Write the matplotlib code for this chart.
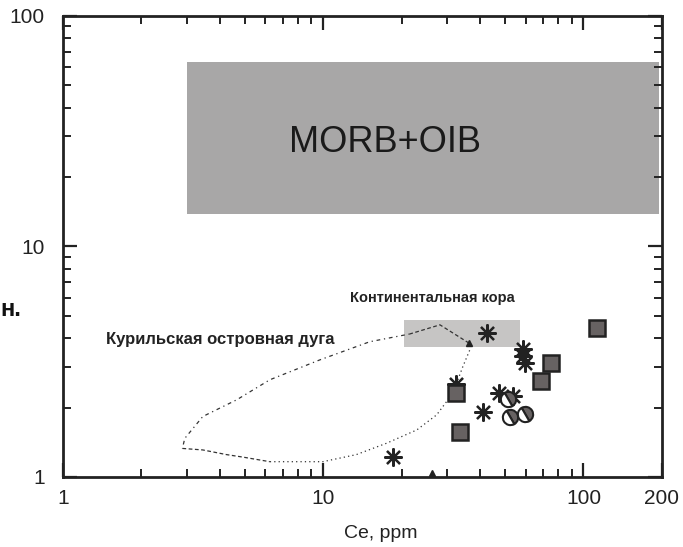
import numpy as np
import matplotlib.pyplot as plt
from matplotlib.patches import Rectangle
from matplotlib.markers import MarkerStyle
from matplotlib.transforms import Affine2D
from matplotlib.ticker import FixedLocator, NullFormatter

plt.rcParams["font.family"] = ["Liberation Sans", "DejaVu Sans"]

# sample groups: Ce (ppm) vs Ce/Pb
star_ce = [42.6, 58.7, 58.5, 59.7, 32.5, 47.3, 53.4, 41.0, 18.6]
star_ratio = [4.22, 3.58, 3.35, 3.11, 2.53, 2.31, 2.25, 1.92, 1.22]

sq_ce = [113, 75, 68.4, 32.3, 33.7]
sq_ratio = [4.42, 3.13, 2.62, 2.32, 1.56]

circ_ce = [51.2, 52.1, 59.6]
circ_ratio = [2.17, 1.82, 1.88]

tri_ce = [26.2]
tri_ratio = [1.04]

# reference fields
morb_ce = (3, 195)
morb_ratio = (13.8, 63)
crust_ce = (20.5, 57)
crust_ratio = (3.65, 4.8)

# Kuril arc outline, split into dashed and dotted pieces
arc_dashed_top_ce = [36.3, 28.1, 21.5]
arc_dashed_top_ratio = [3.81, 4.57, 4.17]
arc_dotted_upper_ce = [21.5, 15.1, 9.71, 6.24, 4.65, 3.45, 2.94, 2.88]
arc_dotted_upper_ratio = [4.17, 3.86, 3.22, 2.64, 2.16, 1.83, 1.47, 1.33]
arc_dashed_low_ce = [2.88, 3.45, 4.26, 4.91, 6.24]
arc_dashed_low_ratio = [1.33, 1.31, 1.25, 1.22, 1.165]
arc_dotted_low_ce = [6.24, 9.97, 13.4, 17.5, 22.9, 27.3, 31.5, 34.4, 36.6]
arc_dotted_low_ratio = [1.165, 1.165, 1.25, 1.40, 1.60, 1.86, 2.31, 3.01, 3.56]

fig = plt.figure(figsize=(6.83, 5.47), dpi=100)
ax = fig.add_axes([0.092, 0.128, 0.877, 0.843])
ax.set_xscale("log")
ax.set_yscale("log")
ax.set_xlim(1, 200)
ax.set_ylim(1, 100)

ax.add_patch(Rectangle((morb_ce[0], morb_ratio[0]), morb_ce[1] - morb_ce[0],
                       morb_ratio[1] - morb_ratio[0], facecolor="#a8a7a7",
                       edgecolor="none", zorder=1))
ax.add_patch(Rectangle((crust_ce[0], crust_ratio[0]), crust_ce[1] - crust_ce[0],
                       crust_ratio[1] - crust_ratio[0], facecolor="#c6c5c4",
                       edgecolor="none", zorder=1))

ax.text(17.3, 28.3, "MORB+OIB", fontsize=26, color="#1a1a1a",
        ha="center", va="center", zorder=2)
ax.text(26.2, 5.98, "Континентальная кора", fontsize=10.5, fontweight="bold",
        color="#222222", ha="center", va="center", zorder=2)
ax.text(4.01, 3.93, "Курильская островная дуга", fontsize=12, fontweight="bold",
        color="#222222", ha="center", va="center", zorder=2)

lc = "#333333"
ax.plot(arc_dashed_top_ce, arc_dashed_top_ratio, color=lc, lw=0.9,
        ls=(0, (3, 2)), zorder=3)
ax.plot(arc_dotted_upper_ce, arc_dotted_upper_ratio, color=lc, lw=0.9,
        ls=(0, (1, 3, 3, 3)), zorder=3)
ax.plot(arc_dashed_low_ce, arc_dashed_low_ratio, color=lc, lw=0.9,
        ls=(0, (3, 2)), zorder=3)
ax.plot(arc_dotted_low_ce, arc_dotted_low_ratio, color=lc, lw=0.9,
        ls=(0, (1, 2.5)), zorder=3)
ax.plot([arc_dashed_top_ce[0]], [arc_dashed_top_ratio[0]], marker="^", ms=5,
        color="#222222", ls="none", zorder=4)

ax.plot(star_ce, star_ratio, ls="none", marker=(8, 2, 0), ms=13, mew=1.6,
        color="#222222", zorder=5)
ax.plot(sq_ce, sq_ratio, ls="none", marker="s", ms=11.5, mew=1.8,
        mfc="#676262", mec="#222222", zorder=6)
half = MarkerStyle("o", fillstyle="right", transform=Affine2D().rotate_deg(30))
ax.plot(circ_ce, circ_ratio, ls="none", marker=half, ms=11, mew=1.5,
        mfc="#676262", mfcalt="white", mec="#222222", zorder=6)
ax.plot(tri_ce, tri_ratio, ls="none", marker="^", ms=4, color="#222222", zorder=4)

for side in ["left", "right", "top", "bottom"]:
    ax.spines[side].set_linewidth(2)
    ax.spines[side].set_color("#222222")

ax.xaxis.set_major_locator(FixedLocator([1, 10, 100, 200]))
ax.xaxis.set_major_formatter(plt.FixedFormatter(["1", "10", "100", "200"]))
ax.xaxis.set_minor_locator(FixedLocator([2, 3, 4, 5, 6, 7, 8, 9,
                                         20, 30, 40, 50, 60, 70, 80, 90]))
ax.xaxis.set_minor_formatter(NullFormatter())
ax.yaxis.set_major_locator(FixedLocator([1, 10, 100]))
ax.yaxis.set_major_formatter(plt.FixedFormatter(["1", "10", "100"]))
ax.yaxis.set_minor_locator(FixedLocator([2, 3, 4, 5, 6, 7, 8, 9,
                                         20, 30, 40, 50, 60, 70, 80, 90]))
ax.yaxis.set_minor_formatter(NullFormatter())

ax.tick_params(which="major", direction="in", length=10, width=1.6,
               color="#222222", labelcolor="#222222", labelsize=15, pad=9,
               top=True, right=True)
ax.tick_params(which="minor", direction="in", length=6, width=1.4,
               color="#222222", top=True, right=True)
ax.tick_params(axis="y", which="major", pad=13)

ax.set_xlabel("Ce, ppm", fontsize=14, labelpad=8, color="#222222")
ax.xaxis.set_label_coords(0.53, -0.105)

# y label sits partly off the page edge
fig.text(-0.012, 0.58, "Ce/Pb", rotation=90, fontsize=14, color="#c4c4c4",
         ha="center", va="center")
fig.text(0.0, 0.435, "н.", fontsize=17, fontweight="bold", color="#111111",
         ha="left", va="center")

fig.savefig("out.png", dpi=100)
